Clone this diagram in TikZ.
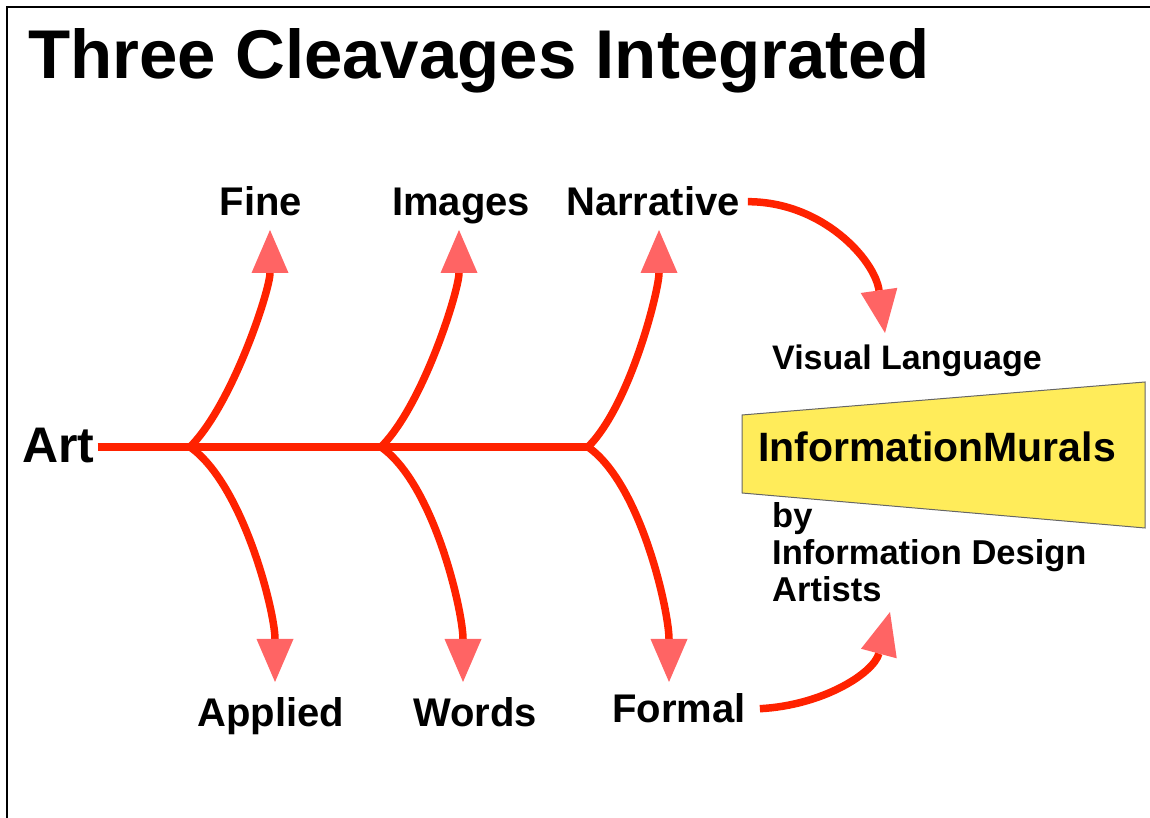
\documentclass[tikz,border=0pt]{standalone}
\usepackage{fontspec}
\setmainfont{Liberation Sans}
\usetikzlibrary{arrows.meta}

\definecolor{fishred}{RGB}{255,34,0}
\definecolor{tippink}{RGB}{255,100,100}
\definecolor{muralyellow}{RGB}{255,236,90}

\begin{document}
\begin{tikzpicture}[x=1pt,y=1pt,
    lbl/.style={font=\bfseries\fontsize{40}{44}\selectfont, inner sep=0pt, anchor=base},
    side/.style={font=\bfseries\fontsize{34.5}{37}\selectfont, inner sep=0pt, anchor=base west, align=left},
    spine/.style={draw=fishred, line width=7.5pt},
    bone/.style={spine, -{Triangle[width=37pt,length=43pt,color=tippink,line width=0pt]}},
    up/.style={out=45, in=-90, out distance=60pt, in distance=60pt},
    down/.style={out=-35, in=90, out distance=65pt, in distance=70pt}
  ]
\useasboundingbox (0,0) rectangle (1150,818);
% frame
\draw[line width=2.5pt] (1150,811) -- (7,811) -- (7,0);

\node[anchor=base west, inner sep=0pt, font=\bfseries\fontsize{69}{80}\selectfont] (title) at (28,739) {Three Cleavages Integrated};

% labels
\node[anchor=base west, inner sep=0pt, font=\bfseries\fontsize{50}{56}\selectfont] (art) at (22,355) {Art};
\node[lbl] (fine) at (261,602) {Fine};
\node[lbl] (images) at (461,602) {Images};
\node[lbl] (narrative) at (653,602) {Narrative};
\node[lbl] (applied) at (271,91) {Applied};
\node[lbl] (words) at (475,91) {Words};
\node[lbl] (formal) at (679,95) {Formal};

% junctions and tips
\coordinate (j1) at (190,371);
\coordinate (j2) at (381,371);
\coordinate (j3) at (588,371);
\coordinate (tfine) at (270,588);
\coordinate (timages) at (459,588);
\coordinate (tnarrative) at (659,588);
\coordinate (tapplied) at (275,136);
\coordinate (twords) at (463,136);
\coordinate (tformal) at (669,136);
\coordinate (tvisual) at (885,485);
\coordinate (tartists) at (890,206);

\draw[spine] ([xshift=3pt]art.east |- j1) -- (j3);
\draw[bone] (j1) to[up] (tfine);
\draw[bone] (j2) to[up] (timages);
\draw[bone] (j3) to[up] (tnarrative);
\draw[bone] (j1) to[down] (tapplied);
\draw[bone] (j2) to[down] (twords);
\draw[bone] (j3) to[down] (tformal);

% murals
\draw[fill=muralyellow, draw=black!60, line width=1pt]
  (742,403) -- (1145,436) -- (1145,290) -- (742,325) -- cycle;
\node[side, font=\bfseries\fontsize{34}{37}\selectfont] (visual) at (772,448) {Visual Language};
\node[side, font=\bfseries\fontsize{41}{44}\selectfont] (murals) at (758,356) {InformationMurals};
\node[side] (artists) at (772,216) {by\\Information Design\\Artists};

\draw[bone] ([xshift=8pt]narrative.east) to[out=0,in=98] (tvisual);
\draw[bone] ([xshift=14pt]formal.east) to[out=3,in=-105] (tartists);
\end{tikzpicture}
\end{document}
